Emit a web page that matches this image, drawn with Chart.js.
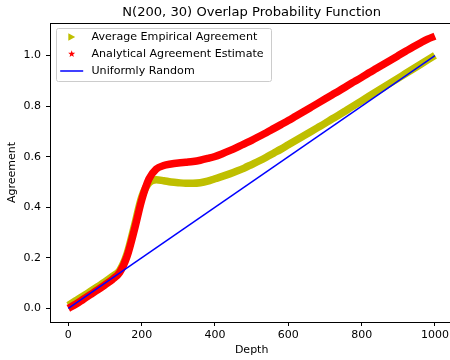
<!DOCTYPE html>
<html>
<head>
<meta charset="utf-8">
<script src="https://cdn.jsdelivr.net/npm/chart.js@4.4.1/dist/chart.umd.min.js"></script>
<style>
  html, body { margin: 0; padding: 0; background: #fff; overflow: hidden; }
</style>
</head>
<body>
<canvas id="overlap_chart" width="460" height="360"></canvas>
<script>
const chartTitle = 'N(200, 30) Overlap Probability Function';

const depths = [
  0, 20, 40, 60, 80, 100, 120, 140, 160, 180,
  200, 220, 240, 260, 280, 300, 320, 340, 360, 380,
  400, 420, 440, 460, 480, 500, 520, 540, 560, 580,
  600, 620, 640, 660, 680, 700, 720, 740, 760, 780,
  800, 820, 840, 860, 880, 900, 920, 940, 960, 980,
  1000
];
const empirical = [
  0.012, 0.030, 0.048, 0.067, 0.086, 0.105, 0.126, 0.150, 0.215, 0.325,
  0.440, 0.497, 0.509, 0.505, 0.500, 0.497, 0.495, 0.495, 0.497, 0.503,
  0.513, 0.522, 0.532, 0.543, 0.555, 0.569, 0.583, 0.598, 0.614, 0.630,
  0.647, 0.664, 0.681, 0.698, 0.715, 0.732, 0.750, 0.767, 0.785, 0.803,
  0.821, 0.839, 0.857, 0.875, 0.893, 0.911, 0.929, 0.947, 0.965, 0.983,
  1.001
];
const analytical = [
  0.000, 0.016, 0.035, 0.054, 0.073, 0.093, 0.114, 0.142, 0.205, 0.310,
  0.428, 0.512, 0.551, 0.565, 0.571, 0.575, 0.578, 0.581, 0.586, 0.593,
  0.601, 0.612, 0.624, 0.637, 0.651, 0.665, 0.680, 0.695, 0.711, 0.727,
  0.743, 0.760, 0.777, 0.794, 0.811, 0.828, 0.845, 0.862, 0.880, 0.897,
  0.914, 0.932, 0.949, 0.966, 0.983, 1.000, 1.017, 1.034, 1.050, 1.065,
  1.077
];
const uniformDepths = [0, 1000];
const uniform = [0, 1];

const xTicks = [0, 200, 400, 600, 800, 1000];
const yTicks = [0.0, 0.2, 0.4, 0.6, 0.8, 1.0];

const toPoints = (xs, ys) => xs.map((x, i) => ({ x: x, y: ys[i] }));

// draws the filled markers used in the legend
function drawMarker(ctx, kind, cx, cy, color) {
  ctx.fillStyle = color;
  ctx.strokeStyle = color;
  ctx.beginPath();
  if (kind === 'triangle') {
    ctx.moveTo(cx - 3.4, cy - 3.8);
    ctx.lineTo(cx + 3.5, cy);
    ctx.lineTo(cx - 3.4, cy + 3.8);
    ctx.closePath();
    ctx.fill();
  } else if (kind === 'star') {
    for (let k = 0; k < 10; k++) {
      const r = k % 2 === 0 ? 3.7 : 1.5;
      const a = -Math.PI / 2 + k * Math.PI / 5;
      const px = cx + r * Math.cos(a), py = cy + r * Math.sin(a);
      if (k === 0) ctx.moveTo(px, py); else ctx.lineTo(px, py);
    }
    ctx.closePath();
    ctx.fill();
  } else {
    ctx.lineWidth = 1.5;
    ctx.moveTo(cx - 11.5, cy);
    ctx.lineTo(cx + 11.5, cy);
    ctx.stroke();
  }
}

const frameAndLegend = {
  id: 'frameAndLegend',
  afterDraw(chart) {
    const ctx = chart.ctx;
    const area = chart.chartArea;
    ctx.save();
    // top and right spines
    ctx.strokeStyle = '#000';
    ctx.lineWidth = 1;
    ctx.beginPath();
    ctx.moveTo(area.left, area.top + 0.5);
    ctx.lineTo(area.right, area.top + 0.5);
    ctx.lineTo(area.right, area.bottom);
    ctx.stroke();

    // title centred over the axes
    ctx.fillStyle = '#000';
    ctx.font = '13.1px "DejaVu Sans"';
    ctx.textAlign = 'center';
    ctx.textBaseline = 'alphabetic';
    ctx.fillText(chartTitle, (area.left + area.right) / 2, 16);

    // legend
    ctx.beginPath();
    ctx.roundRect(56.5, 28.5, 215, 53, 2);
    ctx.fillStyle = 'rgba(255,255,255,0.8)';
    ctx.fill();
    ctx.strokeStyle = '#cccccc';
    ctx.lineWidth = 1;
    ctx.stroke();

    ctx.font = '11.1px "DejaVu Sans"';
    ctx.textAlign = 'left';
    ctx.textBaseline = 'middle';
    chart.data.datasets.forEach((ds, i) => {
      const cy = 37 + i * 17;
      drawMarker(ctx, ds.legendMarker, 71.7, cy, ds.borderColor);
      ctx.fillStyle = '#000';
      ctx.fillText(ds.label, 91.5, cy);
    });
    ctx.restore();
  }
};

Chart.defaults.font.family = '"DejaVu Sans"';
Chart.defaults.font.size = 11;
Chart.defaults.color = '#000';

const data = {
  datasets: [
    {
      label: 'Average Empirical Agreement',
      data: toPoints(depths, empirical),
      borderColor: '#bfbf00',
      backgroundColor: '#bfbf00',
      legendMarker: 'triangle',
      showLine: true,
      borderWidth: 7.5,
      cubicInterpolationMode: 'monotone',
      pointRadius: 0,
      pointHoverRadius: 0,
      order: 3
    },
    {
      label: 'Analytical Agreement Estimate',
      data: toPoints(depths, analytical),
      borderColor: '#ff0000',
      backgroundColor: '#ff0000',
      legendMarker: 'star',
      showLine: true,
      borderWidth: 7.5,
      cubicInterpolationMode: 'monotone',
      pointRadius: 0,
      pointHoverRadius: 0,
      order: 2
    },
    {
      label: 'Uniformly Random',
      data: toPoints(uniformDepths, uniform),
      borderColor: '#0000ff',
      backgroundColor: '#0000ff',
      legendMarker: 'line',
      showLine: true,
      borderWidth: 1.5,
      pointRadius: 0,
      pointHoverRadius: 0,
      order: 1
    }
  ]
};

const axisGrid = {
  drawOnChartArea: false,
  drawTicks: true,
  tickLength: 4,
  tickColor: '#000',
  tickWidth: 1
};

const config = {
  type: 'scatter',
  data: data,
  options: {
    responsive: false,
    animation: false,
    events: [],
    layout: { padding: { top: 23, right: 6.7, left: 0, bottom: 0 } },
    plugins: {
      legend: { display: false },
      title: { display: false },
      tooltip: { enabled: false }
    },
    scales: {
      x: {
        type: 'linear',
        min: -50,
        max: 1050,
        afterBuildTicks: (scale) => { scale.ticks = xTicks.map(v => ({ value: v })); },
        afterFit: (scale) => { scale.height = 38; },
        grid: axisGrid,
        border: { display: true, color: '#000', width: 1 },
        ticks: { padding: 3, maxRotation: 0, callback: (v) => String(v) },
        title: { display: true, text: 'Depth', padding: { top: 0, bottom: 3 } }
      },
      y: {
        type: 'linear',
        min: -0.054,
        max: 1.129,
        afterBuildTicks: (scale) => { scale.ticks = yTicks.map(v => ({ value: v })); },
        afterFit: (scale) => { scale.width = 50; },
        grid: axisGrid,
        border: { display: true, color: '#000', width: 1 },
        ticks: { padding: 5, callback: (v) => v.toFixed(1) },
        title: { display: true, text: 'Agreement', padding: { top: 6, bottom: 0 } }
      }
    }
  },
  plugins: [frameAndLegend]
};

new Chart(document.getElementById('overlap_chart'), config);
</script>
</body>
</html>
